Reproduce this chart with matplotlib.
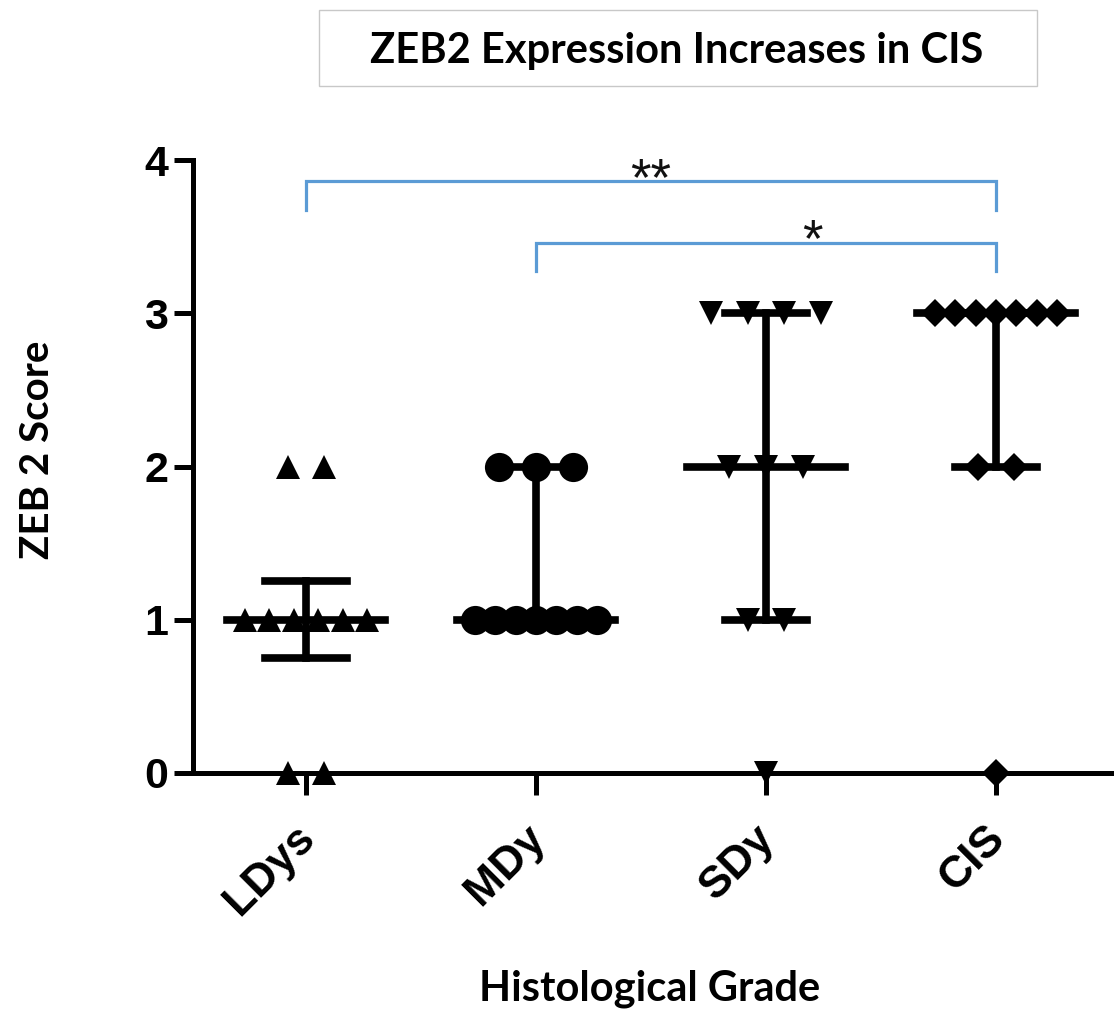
import matplotlib
matplotlib.use("Agg")
import matplotlib.pyplot as plt
from matplotlib.patches import Rectangle
from matplotlib.transforms import ScaledTranslation
import numpy as np

# scores per histological grade
groups = ["LDys", "MDy", "SDy", "CIS"]
ldys = [2, 2, 1, 1, 1, 1, 1, 1, 0, 0]
mdy = [2, 2, 2, 1, 1, 1, 1, 1, 1, 1]
sdy = [3, 3, 3, 3, 2, 2, 2, 1, 1, 0]
cis = [3, 3, 3, 3, 3, 3, 3, 2, 2, 0]
markers = ["^", "o", "v", "D"]
msizes = [17, 21, 17, 14.5]

# summary line (LDys: mean +/- SEM, others: median with IQR)
centers = [1.0, 1.0, 2.0, 3.0]
lows = [0.75, 1.0, 1.0, 2.0]
highs = [1.25, 2.0, 3.0, 3.0]

# significance brackets
pairs = [(1, 4), (2, 4)]
levels = [3.86, 3.46]
stars = ["**", "*"]
star_x = [2.5, 3.2]

blue = "#5B9BD5"

fig = plt.figure(figsize=(11.14, 10.10), dpi=100)
ax = fig.add_axes([193 / 1114, 1 - 773 / 1010, 1 - 193 / 1114, (773 - 160) / 1010])

xmin = 1 - (306 - 193) / 230
ax.set_xlim(xmin, xmin + 921 / 230)
ax.set_ylim(0, 4)


def offsets(vals, step=0.16, width=0.53):
    # spread points with the same score side by side, like a column scatter
    vals = np.array(vals)
    xs = np.zeros(len(vals))
    for v in np.unique(vals):
        idx = np.where(vals == v)[0]
        n = len(idx)
        s = step if n < 2 else min(step, width / (n - 1))
        xs[idx] = (np.arange(n) - (n - 1) / 2) * s
    return xs


for i, vals in enumerate([ldys, mdy, sdy, cis]):
    pos = i + 1
    # summary lines
    ax.plot([pos - 0.343, pos + 0.343], [centers[i]] * 2, color="black", lw=5.5, zorder=2)
    ax.plot([pos, pos], [lows[i], highs[i]], color="black", lw=5.5, zorder=2)
    for y in (lows[i], highs[i]):
        ax.plot([pos - 0.18, pos + 0.18], [y, y], color="black", lw=5.5, zorder=2)
    ax.plot(pos + offsets(vals), vals, linestyle="none", marker=markers[i],
            markersize=msizes[i], color="black", markeredgewidth=0, zorder=3, clip_on=False)

# brackets
for (a, b), lv, st, sx in zip(pairs, levels, stars, star_x):
    ax.plot([a, a, b, b], [lv - 0.185, lv, lv, lv - 0.185], color=blue, lw=2.3,
            solid_joinstyle="miter", clip_on=False)
    ax.text(sx, lv - 0.09, st, ha="center", va="baseline",
            fontsize=38, family="Liberation Sans", color="#111111")

for s in ["top", "right"]:
    ax.spines[s].set_visible(False)
for s in ["left", "bottom"]:
    ax.spines[s].set_linewidth(3.6)

ax.set_yticks([0, 1, 2, 3, 4])
ax.set_xticks([1, 2, 3, 4])
ax.set_xticklabels(groups, rotation=45, ha="right", rotation_mode="anchor")
ax.tick_params(axis="y", length=14, width=3.6, pad=4, labelsize=31)
ax.tick_params(axis="x", length=16, width=3.6, pad=16, labelsize=32)
shift = ScaledTranslation(-12 / 100, 0, fig.dpi_scale_trans)
for lab in ax.get_xticklabels():
    lab.set_transform(lab.get_transform() + shift)
for lab in ax.get_xticklabels() + ax.get_yticklabels():
    lab.set_family("Liberation Sans")
    lab.set_fontweight("bold")

# title box
fig.patches.append(Rectangle((319 / 1114, 1 - 86 / 1010), (1037 - 319) / 1114, 76 / 1010,
                             transform=fig.transFigure, fill=False, edgecolor="#C8C8C8", lw=1))
fig.text(677 / 1114, 1 - 63 / 1010, "ZEB2 Expression Increases in CIS", ha="center",
         va="baseline", fontsize=30, family="Lato", fontweight="bold")

fig.text(49 / 1114, 1 - 450 / 1010, "ZEB 2 Score", rotation=90, rotation_mode="anchor",
         ha="center", va="baseline", fontsize=29, family="Lato", fontweight="bold")
fig.text(650 / 1114, 1 - 1000 / 1010, "Histological Grade", ha="center", va="baseline",
         fontsize=30, family="Lato", fontweight="bold")

fig.savefig("out.png", dpi=100)
